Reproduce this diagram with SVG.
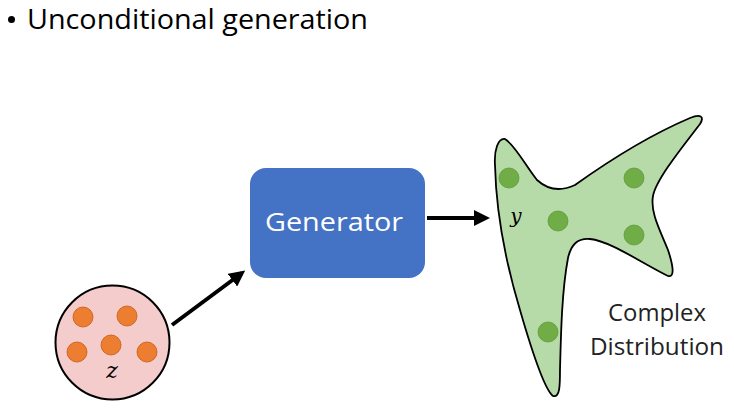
<svg xmlns="http://www.w3.org/2000/svg" width="734" height="408" viewBox="0 0 734 408">
<defs>
<style>
.t{font-family:"Open Sans","Noto Sans","Liberation Sans",sans-serif;}
.m{font-family:"DejaVu Serif","Liberation Serif",serif;font-style:italic;}
.od{fill:#ed7d31;stroke:#c55a11;stroke-width:0.8;}
.gd{fill:#70ad47;stroke:#5b9a3a;stroke-width:0.8;}
.conn{stroke:#000;stroke-width:4;fill:none;marker-end:url(#ah);}
</style>
<marker id="ah" markerWidth="4" markerHeight="4" refX="3" refY="2" orient="auto" markerUnits="strokeWidth">
<path d="M0,0 L4,2 L0,4 Z" fill="#000"/>
</marker>
</defs>
<rect width="734" height="408" fill="#fff"/>
<circle cx="11.5" cy="19.5" r="3.5" fill="#000"/>
<text class="t" x="27" y="28.5" font-size="28" fill="#000" textLength="341" lengthAdjust="spacingAndGlyphs">Unconditional generation</text>

<g id="z">
<circle cx="112.5" cy="342.5" r="57" fill="#f4cccc" stroke="#000" stroke-width="2"/>
<circle class="od" cx="83" cy="317" r="10"/>
<circle class="od" cx="127" cy="316" r="10"/>
<circle class="od" cx="111" cy="345" r="10"/>
<circle class="od" cx="77" cy="352" r="10"/>
<circle class="od" cx="147" cy="352" r="10"/>
<text class="m" x="112" y="378" font-size="22" text-anchor="middle">z</text>
</g>

<g id="generator">
<rect x="250" y="168" width="175" height="110" rx="16" fill="#4472c4"/>
<text class="t" x="334" y="231" font-size="25" fill="#fff" text-anchor="middle" textLength="138" lengthAdjust="spacingAndGlyphs">Generator</text>
</g>

<g id="distribution">
<path d="M505,139 C498,138 494,150 495,165 C496,210 505,260 520,310 C533,355 545,390 553,396 C560,398 560,385 560,370 C561,330 562,290 568,258 C571,245 577,238 590,239 C610,241 640,262 668,276 C676,278 672,262 668,250 C660,230 650,212 653,196 C656,180 680,150 700,124 C705,116 700,114 690,118 C650,135 610,160 575,185 C560,192 548,190 537,180 C525,165 515,145 505,139 Z" fill="#b7dba8" stroke="#000" stroke-width="1.8"/>
<circle class="gd" cx="509" cy="178" r="10"/>
<circle class="gd" cx="634" cy="178" r="10"/>
<circle class="gd" cx="558" cy="221" r="10"/>
<circle class="gd" cx="634" cy="235" r="10"/>
<circle class="gd" cx="548" cy="332" r="10"/>
<text class="m" x="516" y="223" font-size="20" text-anchor="middle">y</text>
<text class="t" x="657" y="321" font-size="23" fill="#222" text-anchor="middle" textLength="98" lengthAdjust="spacingAndGlyphs">Complex</text>
<text class="t" x="657" y="355" font-size="23" fill="#222" text-anchor="middle" textLength="134" lengthAdjust="spacingAndGlyphs">Distribution</text>
</g>

<g id="connectors">
<line class="conn" x1="172" y1="325" x2="242" y2="273"/>
<line class="conn" x1="427" y1="218" x2="486" y2="218"/>
</g>
</svg>
